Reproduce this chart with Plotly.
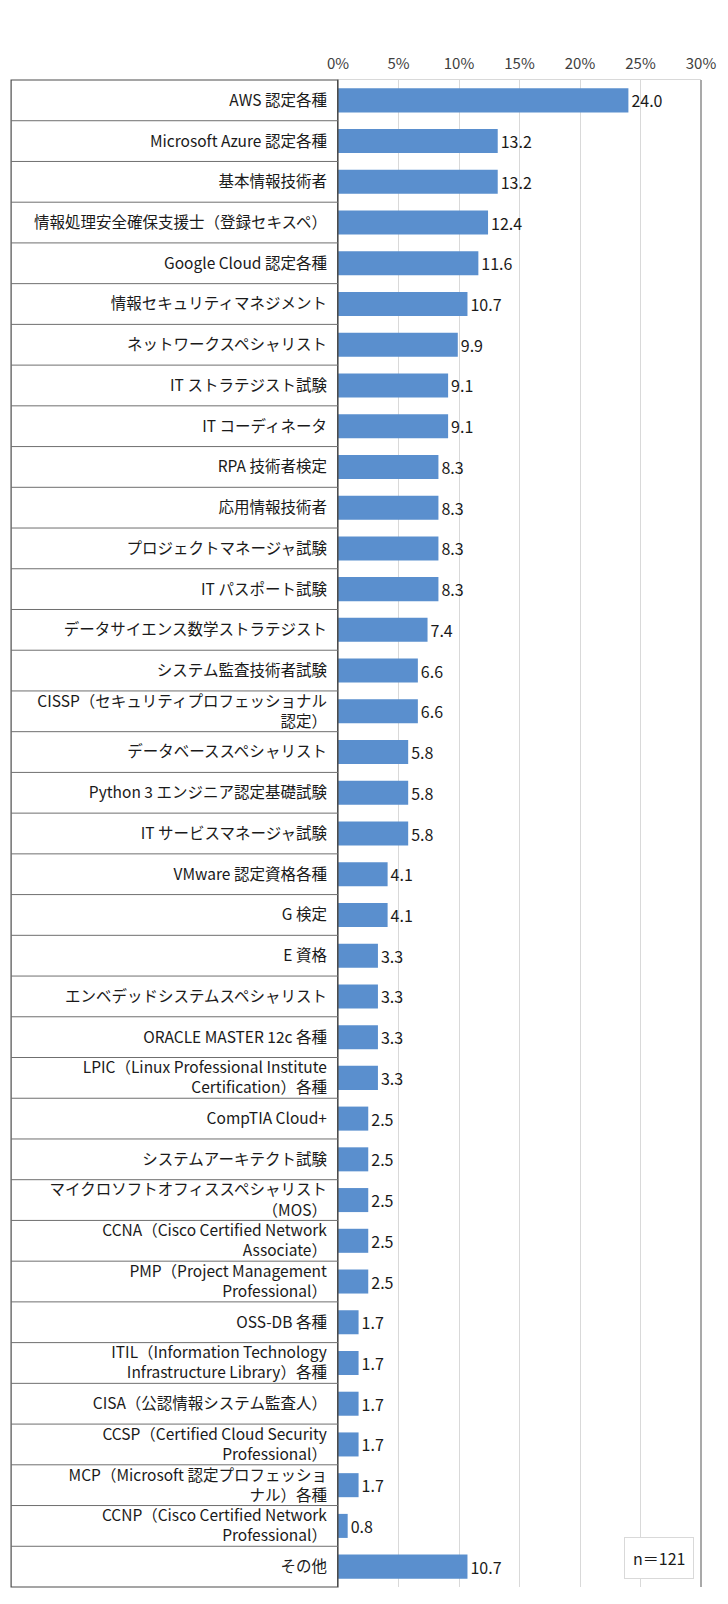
import plotly.graph_objects as go

# 資格名（上から順）と回答割合（%）
CATEGORIES = [
    "AWS 認定各種",
    "Microsoft Azure 認定各種",
    "基本情報技術者",
    "情報処理安全確保支援士（登録セキスペ）",
    "Google Cloud 認定各種",
    "情報セキュリティマネジメント",
    "ネットワークスペシャリスト",
    "IT ストラテジスト試験",
    "IT コーディネータ",
    "RPA 技術者検定",
    "応用情報技術者",
    "プロジェクトマネージャ試験",
    "IT パスポート試験",
    "データサイエンス数学ストラテジスト",
    "システム監査技術者試験",
    "CISSP（セキュリティプロフェッショナル<br>認定）",
    "データベーススペシャリスト",
    "Python 3 エンジニア認定基礎試験",
    "IT サービスマネージャ試験",
    "VMware 認定資格各種",
    "G 検定",
    "E 資格",
    "エンベデッドシステムスペシャリスト",
    "ORACLE MASTER 12c 各種",
    "LPIC（Linux Professional Institute<br>Certification）各種",
    "CompTIA Cloud+",
    "システムアーキテクト試験",
    "マイクロソフトオフィススペシャリスト<br>（MOS）",
    "CCNA（Cisco Certified Network<br>Associate）",
    "PMP（Project Management<br>Professional）",
    "OSS-DB 各種",
    "ITIL（Information Technology<br>Infrastructure Library）各種",
    "CISA（公認情報システム監査人）",
    "CCSP（Certified Cloud Security<br>Professional）",
    "MCP（Microsoft 認定プロフェッショ<br>ナル）各種",
    "CCNP（Cisco Certified Network<br>Professional）",
    "その他",
]
VALUES = [
    24.0, 13.2, 13.2, 12.4, 11.6, 10.7, 9.9, 9.1, 9.1, 8.3,
    8.3, 8.3, 8.3, 7.4, 6.6, 6.6, 5.8, 5.8, 5.8, 4.1,
    4.1, 3.3, 3.3, 3.3, 3.3, 2.5, 2.5, 2.5, 2.5, 2.5,
    1.7, 1.7, 1.7, 1.7, 1.7, 0.8, 10.7,
]
X_TICKS = [0, 5, 10, 15, 20, 25, 30]
X_TICK_LABELS = [f"{v}%" for v in X_TICKS]
SAMPLE_NOTE = "n＝121"

FONT = "Noto Sans CJK JP"
BAR_COLOR = "#5A8FCE"
GRID_COLOR = "#D9D9D9"
TABLE_LINE = "#6F6F6F"

# label column spans from x=3px to the plot's left edge (338px); plot is 372px wide
LABEL_COL_LEFT = -335 / 372

fig = go.Figure()
fig.add_trace(
    go.Bar(
        x=VALUES,
        y=CATEGORIES,
        orientation="h",
        marker={"color": BAR_COLOR, "line": {"width": 0}},
        text=VALUES,
        texttemplate="%{x:.1f}",
        textposition="outside",
        textfont={"family": FONT, "size": 16, "color": "#1a1a1a"},
        constraintext="none",
        cliponaxis=False,
        hoverinfo="skip",
    )
)

n = len(CATEGORIES)

# table frame and row separators of the label column
shapes = [
    {
        "type": "rect", "xref": "paper", "yref": "paper",
        "x0": LABEL_COL_LEFT, "x1": 0, "y0": 0, "y1": 1,
        "line": {"color": "#4D4D4D", "width": 1.2},
    },
    {
        "type": "line", "xref": "paper", "yref": "paper",
        "x0": 1, "x1": 1, "y0": 0, "y1": 1,
        "line": {"color": "#8C8C8C", "width": 1.5},
    },
]
for i in range(1, n):
    shapes.append(
        {
            "type": "line", "xref": "paper", "yref": "y",
            "x0": LABEL_COL_LEFT, "x1": 0, "y0": i - 0.5, "y1": i - 0.5,
            "line": {"color": TABLE_LINE, "width": 1},
        }
    )

fig.update_layout(
    width=728,
    height=1604,
    template="plotly_white",
    paper_bgcolor="white",
    plot_bgcolor="white",
    showlegend=False,
    bargap=0.41,
    margin={"l": 338, "r": 18, "t": 80, "b": 17, "pad": 0},
    font={"family": FONT, "size": 16, "color": "#1a1a1a"},
    xaxis={
        "side": "top",
        "range": [0, 30],
        "tickmode": "array",
        "tickvals": X_TICKS,
        "ticktext": X_TICK_LABELS,
        "showgrid": True,
        "gridcolor": GRID_COLOR,
        "gridwidth": 1,
        "zeroline": False,
        "showline": True,
        "linecolor": GRID_COLOR,
        "ticks": "",
        "ticklabelstandoff": 4,
        "tickfont": {"family": FONT, "size": 15, "color": "#404040"},
    },
    yaxis={
        "type": "category",
        "range": [n - 0.5, -0.5],
        "showgrid": False,
        "zeroline": False,
        "showline": True,
        "linecolor": "#4D4D4D",
        "ticks": "",
        "ticklabelstandoff": 7,
        "tickfont": {"family": FONT, "size": 15.5, "color": "#1a1a1a"},
    },
    shapes=shapes,
)

fig.add_annotation(
    text=SAMPLE_NOTE,
    xref="paper",
    yref="paper",
    x=0.884,
    y=0.019,
    xanchor="center",
    yanchor="middle",
    showarrow=False,
    font={"family": FONT, "size": 16, "color": "#1a1a1a"},
    bgcolor="white",
    bordercolor=GRID_COLOR,
    borderwidth=1,
    borderpad=8,
)

# the page's default body margin would push the fixed-size figure out of the window
fig.write_html(
    "out.html",
    config={"displayModeBar": False},
    post_script="document.body.style.margin='0';document.body.style.overflow='hidden';",
)
